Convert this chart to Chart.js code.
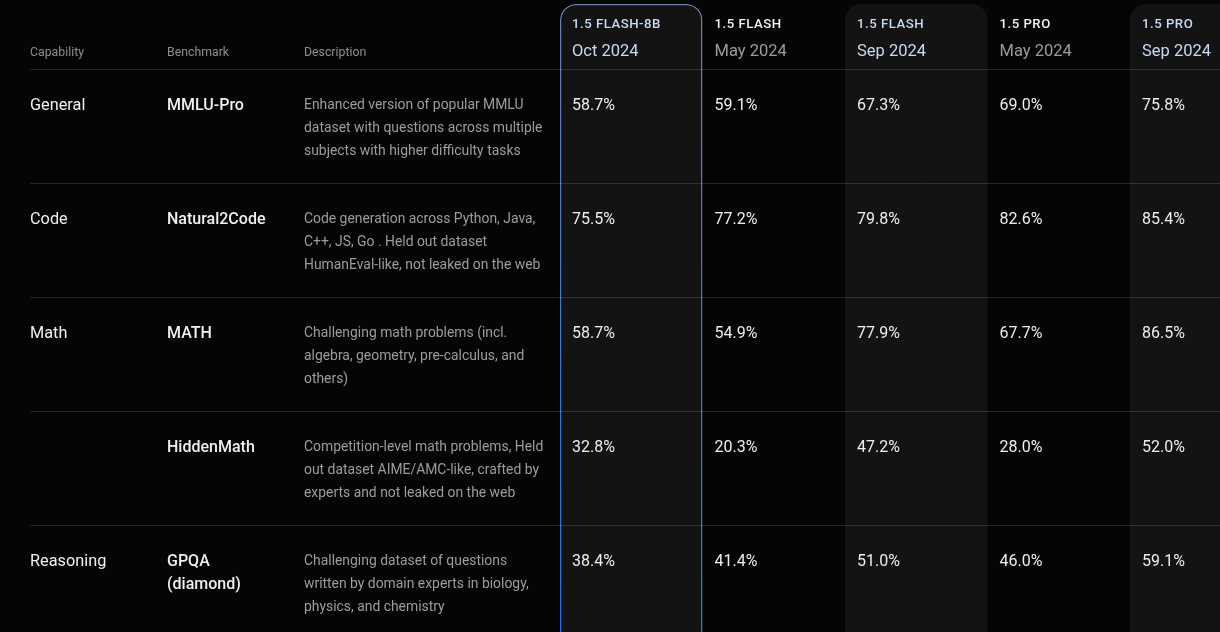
<!DOCTYPE html>
<html>
<head>
<meta charset="utf-8">
<script src="https://cdn.jsdelivr.net/npm/chart.js@4.4.1/dist/chart.umd.min.js"></script>
<style>
  html, body { margin: 0; padding: 0; background: #050505; }
  #wrap { width: 1220px; height: 632px; position: relative; }
</style>
</head>
<body>
<div id="wrap"><canvas id="c"></canvas></div>
<script>
// ---------- DATA ----------
const headerLabels = ['Capability', 'Benchmark', 'Description'];
const capabilities = ['General', 'Code', 'Math', '', 'Reasoning'];
const benchmarks = [['MMLU-Pro'], ['Natural2Code'], ['MATH'], ['HiddenMath'], ['GPQA', '(diamond)']];
const descriptions = [
  ['Enhanced version of popular MMLU', 'dataset with questions across multiple', 'subjects with higher difficulty tasks'],
  ['Code generation across Python, Java,', 'C++, JS, Go . Held out dataset', 'HumanEval-like, not leaked on the web'],
  ['Challenging math problems (incl.', 'algebra, geometry, pre-calculus, and', 'others)'],
  ['Competition-level math problems, Held', 'out dataset AIME/AMC-like, crafted by', 'experts and not leaked on the web'],
  ['Challenging dataset of questions', 'written by domain experts in biology,', 'physics, and chemistry']
];
const modelNames = ['1.5 FLASH-8B', '1.5 FLASH', '1.5 FLASH', '1.5 PRO', '1.5 PRO'];
const modelDates = ['Oct 2024', 'May 2024', 'Sep 2024', 'May 2024', 'Sep 2024'];
const flash8bOct = [58.7, 75.5, 58.7, 32.8, 38.4];
const flashMay   = [59.1, 77.2, 54.9, 20.3, 41.4];
const flashSep   = [67.3, 79.8, 77.9, 47.2, 51.0];
const proMay     = [69.0, 82.6, 67.7, 28.0, 46.0];
const proSep     = [75.8, 85.4, 86.5, 52.0, 59.1];
const modelSeries = [flash8bOct, flashMay, flashSep, proMay, proSep];
const highlighted = [true, false, true, false, true];

// ---------- LAYOUT / STYLE ----------
const FONT = 'Roboto, "Open Sans", sans-serif';
const leftColX = [30, 167, 304];
const lineLeft = 30;
const panelTop = -1.07, panelBottom = 5;

function borderGrad(ctx) {
  const chart = ctx.chart;
  const area = chart.chartArea;
  if (!area) return '#3a7ad8';
  const g = chart.ctx.createLinearGradient(0, area.top, 0, area.bottom);
  g.addColorStop(0, '#6f7fab');
  g.addColorStop(0.35, '#5077bb');
  g.addColorStop(1, '#2f74d6');
  return g;
}

const panelData = modelNames.map((_, k) => ({ x: k, y: [panelTop, panelBottom] }));

const valueDatasets = modelSeries.map((series, k) => ({
  type: 'scatter',
  label: modelNames[k] + ' ' + modelDates[k],
  data: series.map((v, i) => ({ x: k, y: i, v: v })),
  pointRadius: 0,
  pointHoverRadius: 0,
  showLine: false
}));

const tablePlugin = {
  id: 'tableText',
  afterDatasetsDraw(chart) {
    const c = chart.ctx;
    const xs = chart.scales.x, ys = chart.scales.y;
    const area = chart.chartArea;
    const rowTop = i => ys.getPixelForValue(i - 0.5);
    const bandLeft = k => xs.getPixelForValue(k - 0.5);
    c.save();
    c.textBaseline = 'middle';
    c.textAlign = 'left';

    // separator lines
    c.strokeStyle = 'rgba(255,255,255,0.13)';
    c.lineWidth = 1;
    for (let i = 0; i < capabilities.length; i++) {
      const y = Math.round(rowTop(i)) + 0.5;
      c.beginPath();
      c.moveTo(lineLeft, y);
      c.lineTo(area.right, y);
      c.stroke();
    }

    // header labels
    const hTop = rowTop(0);
    c.fillStyle = '#8e8e8e';
    c.font = '12.3px ' + FONT;
    headerLabels.forEach((t, j) => c.fillText(t, leftColX[j], hTop - 16));

    // model headers
    modelNames.forEach((name, k) => {
      const x = bandLeft(k) + 12;
      c.font = '500 13.2px ' + FONT;
      c.letterSpacing = '0.5px';
      c.fillStyle = highlighted[k] ? '#c9daf3' : '#f2f2f2';
      c.fillText(name, x, hTop - 44);
      c.letterSpacing = '0px';
      c.font = '16.5px ' + FONT;
      c.fillStyle = highlighted[k] ? '#c9daf3' : '#9c9c9c';
      c.fillText(modelDates[k], x, hTop - 17);
    });

    // row text
    for (let i = 0; i < capabilities.length; i++) {
      const y0 = rowTop(i) + 36.5;
      c.fillStyle = '#f0f0f0';
      c.font = '16.3px ' + FONT;
      c.fillText(capabilities[i], leftColX[0], y0);
      c.font = '500 16px ' + FONT;
      benchmarks[i].forEach((t, l) => c.fillText(t, leftColX[1], y0 + l * 23));
      c.fillStyle = '#9d9d9d';
      c.font = '13.9px ' + FONT;
      descriptions[i].forEach((t, l) => c.fillText(t, leftColX[2], y0 + l * 23));
    }

    // values via scatter elements
    chart.data.datasets.forEach((ds, di) => {
      if (ds.type !== 'scatter') return;
      const meta = chart.getDatasetMeta(di);
      const half = (xs.getPixelForValue(1) - xs.getPixelForValue(0)) / 2;
      const rowHalf = (ys.getPixelForValue(1) - ys.getPixelForValue(0)) / 2;
      meta.data.forEach((el, j) => {
        const v = ds.data[j].v;
        c.fillStyle = '#eeeeee';
        c.font = '16px ' + FONT;
        c.fillText(v.toFixed(1) + '%', el.x - half + 12, el.y - rowHalf + 36.5);
      });
    });
    c.restore();
  }
};

new Chart(document.getElementById('c'), {
  type: 'bar',
  data: {
    datasets: [{
      type: 'bar',
      label: 'panels',
      data: panelData,
      backgroundColor: modelNames.map((_, k) => highlighted[k] ? '#131313' : 'rgba(0,0,0,0)'),
      borderColor: (ctx) => ctx.dataIndex === 0 ? borderGrad(ctx) : 'rgba(0,0,0,0)',
      borderWidth: modelNames.map((_, k) => k === 0 ? 1.5 : 0),
      borderSkipped: false,
      borderRadius: 16,
      categoryPercentage: 1,
      barPercentage: 1,
      inflateAmount: 0
    }, ...valueDatasets]
  },
  options: {
    responsive: true,
    maintainAspectRatio: false,
    animation: false,
    events: [],
    layout: { padding: 0 },
    plugins: { legend: { display: false }, tooltip: { enabled: false } },
    scales: {
      x: { type: 'linear', offset: false, min: -4.4298, max: 4.1316, display: false, grid: { display: false } },
      y: { type: 'linear', offset: false, reverse: true, min: -1.1053, max: 4.4386, display: false, grid: { display: false } }
    }
  },
  plugins: [tablePlugin]
});
</script>
</body>
</html>
